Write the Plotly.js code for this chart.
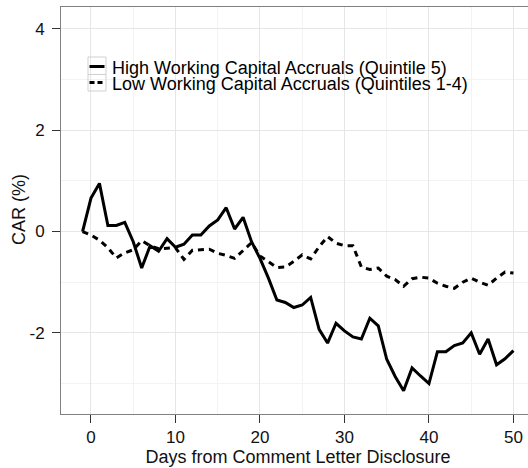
<!DOCTYPE html>
<html>
<head>
<meta charset="utf-8">
<script src="https://cdn.plot.ly/plotly-3.0.1.min.js"></script>
<style>
  html, body { margin: 0; padding: 0; background: #fff; overflow: hidden; }
  #chart { width: 540px; height: 468px; }
</style>
</head>
<body>
<div id="chart"></div>
<script>
// ---- data ----
const days = [-1,0,1,2,3,4,5,6,7,8,9,10,11,12,13,14,15,16,17,18,19,20,
  21,22,23,24,25,26,27,28,29,30,31,32,33,34,35,36,37,38,39,40,
  41,42,43,44,45,46,47,48,49,50];
const highAccruals = [0.00,0.66,0.95,0.12,0.12,0.18,-0.20,-0.72,-0.28,-0.39,-0.14,-0.31,
  -0.25,-0.07,-0.07,0.11,0.23,0.47,0.05,0.28,-0.20,-0.53,
  -0.92,-1.35,-1.40,-1.50,-1.45,-1.30,-1.93,-2.20,-1.81,-1.96,-2.08,-2.12,-1.71,-1.86,
  -2.52,-2.86,-3.14,-2.69,-2.85,-3.00,-2.37,-2.37,-2.25,-2.20,-2.00,-2.42,-2.12,-2.63,-2.51,-2.35];
const lowAccruals = [0.00,-0.07,-0.17,-0.32,-0.52,-0.42,-0.36,-0.18,-0.28,-0.34,-0.33,-0.32,
  -0.55,-0.37,-0.36,-0.35,-0.43,-0.47,-0.53,-0.38,-0.22,-0.48,
  -0.60,-0.71,-0.70,-0.59,-0.46,-0.54,-0.30,-0.10,-0.23,-0.28,-0.28,-0.70,-0.75,-0.72,
  -0.88,-0.95,-1.08,-0.93,-0.90,-0.92,-1.02,-1.08,-1.12,-1.00,-0.92,-1.00,-1.06,-0.92,-0.80,-0.82];
const seriesNames = ["High Working Capital Accruals (Quintile 5)",
                     "Low Working Capital Accruals (Quintiles 1-4)"];
const xTicks = [0,10,20,30,40,50];
const yTicks = [-2,0,2,4];
const xTitle = 'Days from Comment Letter Disclosure';
const yTitle = 'CAR (%)';

// ---- layout geometry (pixels) ----
const W = 540, H = 468;
const M = {l: 61, r: 5, t: 7, b: 54};
const pw = W - M.l - M.r, ph = H - M.t - M.b;
const px2x = p => (p - M.l) / pw;
const px2y = p => (M.t + ph - p) / ph;

const FONT = '"Liberation Sans", Arial, sans-serif';
const DASH = '6px,5px';

const traces = [
  {x: days, y: highAccruals, type: 'scatter', mode: 'lines', name: seriesNames[0],
   line: {color: '#000', width: 3}, showlegend: false, hoverinfo: 'skip'},
  {x: days, y: lowAccruals, type: 'scatter', mode: 'lines', name: seriesNames[1],
   line: {color: '#000', width: 3, dash: DASH}, showlegend: false, hoverinfo: 'skip'}
];

const axisCommon = {
  showline: true, linecolor: '#808080', linewidth: 1, mirror: true,
  ticks: 'outside', ticklen: 8, tickcolor: '#333', tickwidth: 1,
  showgrid: true, gridcolor: '#e6e6e6', gridwidth: 1,
  zeroline: false,
  tickfont: {family: FONT, size: 17, color: '#111'},
};

// legend drawn manually (tight ggplot-style spacing)
const keyBoxes = [[57, 74.5], [74.5, 91]];
const keyLineY = [66.5, 82.5];
const textY = [67.5, 83.5];
const shapes = [];
const annotations = [];
keyBoxes.forEach((b, i) => {
  shapes.push({type: 'rect', xref: 'paper', yref: 'paper',
    x0: px2x(88), x1: px2x(106), y0: px2y(b[1]), y1: px2y(b[0]),
    line: {color: '#d0d0d0', width: 1}, fillcolor: 'rgba(255,255,255,0)'});
  shapes.push({type: 'line', xref: 'paper', yref: 'paper',
    x0: px2x(89.5), x1: px2x(104.5), y0: px2y(keyLineY[i]), y1: px2y(keyLineY[i]),
    line: {color: '#000', width: 3, dash: i === 0 ? 'solid' : '5px,3px'}});
  annotations.push({xref: 'paper', yref: 'paper', x: px2x(110), y: px2y(textY[i]),
    xanchor: 'left', yanchor: 'middle', showarrow: false, text: seriesNames[i],
    font: {family: FONT, size: 18, color: '#000'}});
});
// y-axis title placed to match reference position
annotations.push({xref: 'paper', yref: 'paper', x: px2x(19), y: px2y(210),
  xanchor: 'center', yanchor: 'middle', textangle: -90, showarrow: false, text: yTitle,
  font: {family: FONT, size: 18, color: '#111'}});

const layout = {
  width: W, height: H,
  margin: M,
  paper_bgcolor: '#fff', plot_bgcolor: '#fff',
  font: {family: FONT, color: '#111'},
  xaxis: Object.assign({}, axisCommon, {
    range: [-3.55, 52.55], tickvals: xTicks, ticktext: xTicks.map(String),
    minor: {dtick: 5, tick0: 0, showgrid: true, gridcolor: '#f3f3f3', gridwidth: 1, ticks: ''},
    title: {text: xTitle, font: {family: FONT, size: 18, color: '#111'}, standoff: 1}
  }),
  yaxis: Object.assign({}, axisCommon, {
    range: [-3.6, 4.43], tickvals: yTicks, ticktext: yTicks.map(String),
    minor: {dtick: 1, tick0: 0, showgrid: true, gridcolor: '#f3f3f3', gridwidth: 1, ticks: ''},
    ticklabelstandoff: 4
  }),
  shapes: shapes,
  annotations: annotations
};

Plotly.newPlot('chart', traces, layout, {staticPlot: true, displayModeBar: false});
</script>
</body>
</html>
